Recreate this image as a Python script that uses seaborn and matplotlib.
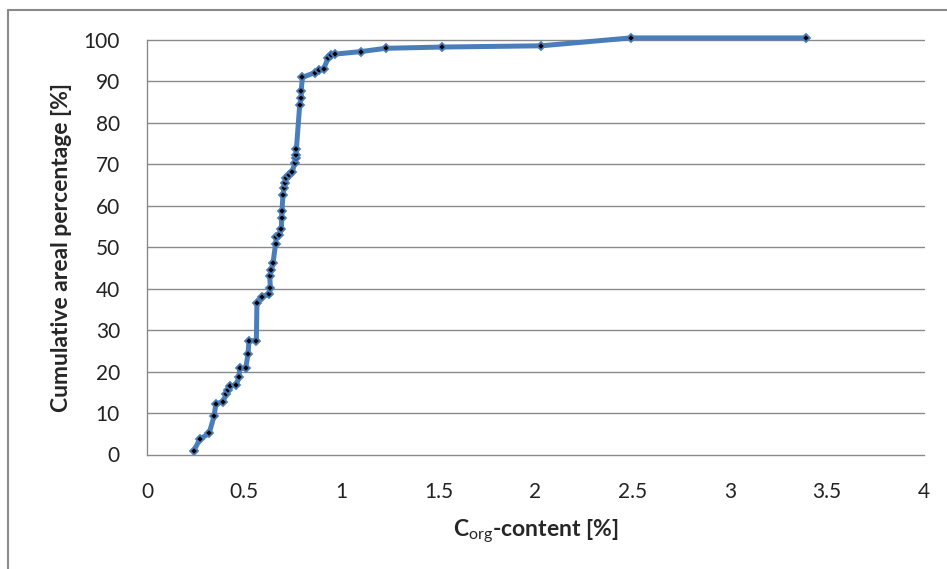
import matplotlib
matplotlib.use("Agg")
import pandas as pd
import seaborn as sns
import matplotlib.pyplot as plt
from matplotlib.lines import Line2D

# C_org content [%] and cumulative areal percentage [%]
corg = [0.24, 0.272, 0.32, 0.346, 0.354, 0.389, 0.409, 0.418, 0.426, 0.46,
        0.474, 0.477, 0.508, 0.52, 0.525, 0.563, 0.566, 0.593, 0.630, 0.635,
        0.632, 0.64, 0.649, 0.662, 0.666, 0.68, 0.692, 0.693, 0.695, 0.70,
        0.705, 0.709, 0.717, 0.731, 0.748, 0.76, 0.765, 0.769, 0.769, 0.786,
        0.794, 0.794, 0.80, 0.863, 0.885, 0.909, 0.931, 0.945, 0.97, 1.10,
        1.23, 1.52, 2.03, 2.49, 3.39]
cum_pct = [0.8, 3.7, 5.1, 9.4, 12.2, 12.7, 14.5, 15.6, 16.5, 16.8,
           18.8, 20.8, 20.8, 24.2, 27.4, 27.5, 36.6, 38.1, 38.7, 40.1,
           43.1, 44.5, 46.3, 50.8, 52.5, 52.9, 54.3, 57.1, 58.8, 62.6,
           64.2, 65.4, 66.6, 67.4, 68.2, 70.3, 71.5, 72.3, 73.6, 84.3,
           85.9, 87.8, 91.0, 92.1, 92.8, 92.9, 95.6, 96.4, 96.6, 97.2,
           98.0, 98.3, 98.6, 100.5, 100.5]

x_ticks = [0, 0.5, 1, 1.5, 2, 2.5, 3, 3.5, 4]
x_tick_labels = ["0", "0.5", "1", "1.5", "2", "2.5", "3", "3.5", "4"]
y_ticks = list(range(0, 101, 10))


def set_config():
    sns.set_style("white")
    plt.rcParams["font.family"] = ["Lato", "DejaVu Sans"]
    plt.rcParams["mathtext.fontset"] = "custom"
    plt.rcParams["mathtext.rm"] = "Lato"
    plt.rcParams["mathtext.bf"] = "Lato:bold"


def main():
    set_config()
    df = pd.DataFrame({"corg": corg, "cum": cum_pct})

    fig = plt.figure(figsize=(9.47, 5.69), dpi=100)
    ax = fig.add_axes([147 / 947, 1 - 454.5 / 569, (924 - 147) / 947, (454.5 - 40) / 569])

    grey = "#8a8a8a"
    blue = "#4a7ebb"

    # horizontal gridlines like excel
    for y in y_ticks[1:]:
        ax.axhline(y, color=grey, lw=1.0, zorder=0)

    sns.lineplot(data=df, x="corg", y="cum", sort=False, estimator=None,
                 color=blue, lw=3.6, marker="D", markersize=3.8,
                 markerfacecolor="black", markeredgecolor=blue,
                 markeredgewidth=1.3, ax=ax)
    for l in ax.lines:
        l.set_clip_on(False)

    ax.set_xlim(0, 4)
    ax.set_ylim(0, 100)
    ax.set_xticks(x_ticks)
    ax.set_xticklabels(x_tick_labels)
    ax.set_yticks(y_ticks)
    ax.tick_params(axis="both", labelsize=15, colors="#222222",
                   length=6.5, width=1, direction="out", color=grey)
    ax.tick_params(axis="y", pad=13)
    ax.tick_params(axis="x", pad=13)
    for s in ["top", "right"]:
        ax.spines[s].set_visible(False)
    for s in ["left", "bottom"]:
        ax.spines[s].set_color(grey)
        ax.spines[s].set_linewidth(1.0)

    ax.set_xlabel(r"C$_{\mathrm{org}}$-content [%]", fontsize=16.5, fontweight="bold",
                  labelpad=12)
    ax.set_ylabel("Cumulative areal percentage [%]", fontsize=16.5, fontweight="bold",
                  labelpad=8)

    # chart area border (top and left visible)
    fig.add_artist(Line2D([8 / 947, 1], [1 - 10 / 569, 1 - 10 / 569],
                          transform=fig.transFigure, color=grey, lw=1.5))
    fig.add_artist(Line2D([8 / 947, 8 / 947], [0, 1 - 10 / 569],
                          transform=fig.transFigure, color=grey, lw=1.5))

    fig.savefig("out.png", dpi=100)


if __name__ == "__main__":
    main()
